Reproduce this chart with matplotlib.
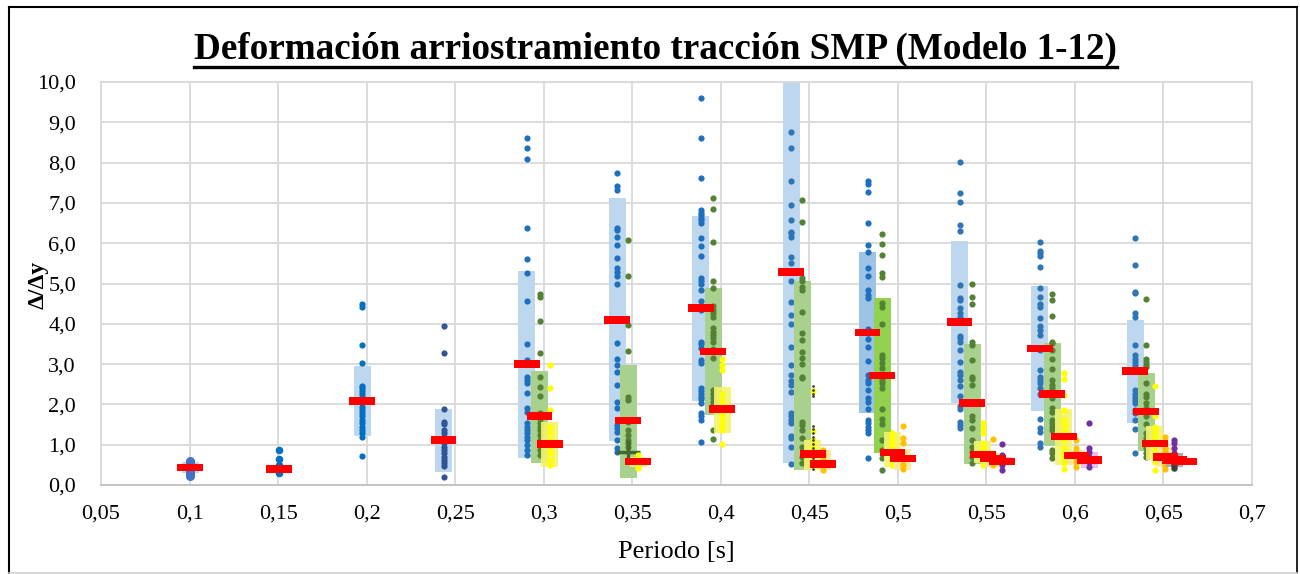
import numpy as np
import matplotlib
matplotlib.use("Agg")
import matplotlib.pyplot as plt
from matplotlib.lines import Line2D

# ---------------- data ----------------
x_ticks = [0.05, 0.1, 0.15, 0.2, 0.25, 0.3, 0.35, 0.4, 0.45, 0.5, 0.55, 0.6, 0.65, 0.7]
x_tick_labels = ["0,05", "0,1", "0,15", "0,2", "0,25", "0,3", "0,35", "0,4", "0,45", "0,5", "0,55", "0,6", "0,65", "0,7"]
y_ticks = [0, 1, 2, 3, 4, 5, 6, 7, 8, 9, 10]
y_tick_labels = ["0,0", "1,0", "2,0", "3,0", "4,0", "5,0", "6,0", "7,0", "8,0", "9,0", "10,0"]

# Blue series (periods 0.1 ... 0.65)
blue_x = [0.1003, 0.1506, 0.1975, 0.2435, 0.2904, 0.3415, 0.3888, 0.4397, 0.4829, 0.5349, 0.5801, 0.6340]
blue_points = [
    [0.60, 0.57, 0.54, 0.51, 0.48, 0.45, 0.42, 0.39, 0.36, 0.33, 0.30, 0.27, 0.24, 0.22],
    [0.87, 0.64, 0.50, 0.43, 0.38, 0.34, 0.30],
    [4.49, 4.42, 3.48, 3.02, 2.46, 2.40, 2.34, 2.27, 2.19, 2.11, 2.03, 1.94, 1.86, 1.78, 1.70,
     1.61, 1.53, 1.45, 1.36, 1.28, 1.20, 0.73],
    [3.95, 3.28, 1.88, 1.57, 1.51, 1.36, 1.30, 1.20, 1.12, 1.03, 0.95, 0.87, 0.79, 0.70, 0.62,
     0.54, 0.47, 0.21],
    [8.62, 8.35, 8.09, 6.37, 5.61, 5.27, 4.57, 3.50, 3.10, 2.69, 2.61, 2.52, 2.29, 1.90, 1.82,
     1.53, 1.45, 1.36, 1.28, 1.20, 1.12, 0.99, 0.87, 0.74],
    [7.73, 7.42, 7.32, 6.37, 6.33, 6.16, 5.96, 5.64, 5.38, 5.29, 5.19, 4.98, 3.52, 3.13, 2.98,
     2.80, 2.47, 2.07, 1.90, 1.49, 1.41, 1.32, 1.12, 0.91, 0.83],
    [9.61, 8.61, 7.63, 6.82, 6.76, 6.70, 6.63, 6.58, 6.51, 6.12, 5.93, 5.68, 5.13, 5.07, 5.00,
     4.84, 4.57, 4.34, 3.56, 3.49, 3.39, 3.10, 3.02, 2.40, 2.33, 2.27, 2.19, 2.13, 2.04, 1.78,
     1.71, 1.61, 1.06],
    [8.77, 8.37, 7.55, 6.96, 6.58, 6.29, 6.25, 6.16, 5.65, 5.52, 5.07, 4.55, 4.22, 3.99, 3.43,
     2.98, 2.73, 2.59, 2.48, 2.30, 1.78, 1.70, 1.61, 1.53, 1.22, 1.16, 0.95, 0.52],
    [7.55, 7.47, 7.26, 6.50, 5.96, 5.79, 5.38, 5.19, 4.84, 4.72, 4.63, 3.86, 3.76, 3.62, 3.43,
     3.08, 2.73, 2.61, 2.52, 2.36, 2.15, 2.07, 1.88, 1.61, 1.53, 1.45, 1.36, 1.28, 0.66],
    [8.02, 7.24, 7.03, 6.44, 6.31, 4.96, 4.65, 4.59, 4.38, 4.26, 4.18, 3.70, 3.64, 3.56, 3.35,
     3.04, 2.81, 2.73, 2.61, 2.46, 2.21, 1.96, 1.88, 1.57, 1.49, 1.41],
    [6.02, 5.81, 5.75, 5.69, 5.40, 4.88, 4.67, 4.48, 4.42, 4.14, 3.95, 3.85, 3.72, 3.35, 2.85,
     2.69, 2.61, 2.52, 2.40, 2.27, 1.65, 1.41, 1.32, 1.03, 0.95],
    [6.12, 5.47, 4.80, 4.77, 4.26, 4.18, 3.47, 3.23, 3.12, 3.06, 2.98, 2.36, 2.27, 2.19, 2.11,
     2.03, 1.86, 1.78, 1.61, 1.38, 0.79],
]
blue_lo = [0.30, 0.30, 1.22, 0.33, 0.66, 1.08, 2.09, 0.55, 1.78, 2.03, 1.84, 1.55]
blue_hi = [0.58, 0.50, 2.95, 1.88, 5.31, 7.12, 6.67, 9.97, 5.77, 6.05, 4.94, 4.09]
blue_mean = [0.43, 0.39, 2.08, 1.12, 3.00, 4.10, 4.39, 5.28, 3.78, 4.04, 3.39, 2.83]
blue_dot_colors = ["#4472c4", "#0070c0", "#0070c0", "#2f5597", "#1f6fbf", "#1f6fbf",
                   "#1f6fbf", "#2e75b6", "#1f6fbf", "#2e75b6", "#2e75b6", "#2e75b6"]
blue_dot_sizes = [42, 30, 20, 20, 20, 20, 20, 20, 20, 20, 20, 20]
blue_bar_colors = ["#bdd7ee"] * 8 + ["#9dc3e6"] + ["#bdd7ee"] * 3

# Green series (periods 0.3 ... 0.65)
green_x = [0.2977, 0.3477, 0.3958, 0.4459, 0.4911, 0.5419, 0.5871, 0.6402]
green_points = [
    [4.73, 4.66, 4.08, 3.27, 2.69, 2.44, 2.21, 1.78, 1.65, 1.53, 1.45, 1.36, 1.24, 1.12, 0.99, 0.87, 0.74],
    [6.08, 5.19, 3.97, 3.33, 2.18, 2.11, 1.57, 1.36, 1.24, 1.12, 1.03, 0.95],
    [7.12, 6.84, 6.04, 5.07, 4.90, 4.43, 4.34, 4.26, 4.18, 3.89, 3.80, 3.72, 3.64, 3.56, 3.37,
     3.14, 2.36, 2.27, 2.15, 2.07, 1.99, 1.36, 1.14],
    [7.06, 6.53, 5.13, 5.05, 4.92, 4.84, 4.30, 3.76, 3.60, 3.31, 3.14, 3.00, 2.69, 2.65, 1.57,
     1.49, 1.36, 1.16, 0.95, 0.70, 0.54],
    [6.23, 5.97, 5.71, 5.25, 5.17, 4.51, 4.42, 3.99, 3.23, 3.14, 3.02, 2.90, 2.69, 2.61, 2.52,
     2.40, 1.88, 1.63, 1.51, 1.12, 0.87, 0.66, 0.37],
    [4.98, 4.67, 4.48, 3.56, 3.47, 3.09, 2.69, 2.62, 2.48, 1.71, 1.61, 1.41, 1.12, 0.95, 0.83, 0.70, 0.54],
    [4.73, 4.59, 4.20, 3.56, 3.52, 3.35, 3.13, 2.87, 2.61, 2.48, 2.40, 2.27, 2.15, 1.90, 1.82,
     1.61, 1.53, 1.45, 1.36, 0.87, 0.79, 0.66],
    [4.61, 3.47, 3.12, 3.06, 2.98, 2.94, 2.52, 2.27, 2.19, 2.03, 1.90, 1.70, 1.51, 1.28, 1.16,
     1.03, 0.91, 0.79, 0.70],
]
green_lo = [0.55, 0.18, 1.74, 0.36, 0.80, 0.52, 0.97, 0.85]
green_hi = [2.83, 2.98, 4.88, 5.06, 4.64, 3.50, 3.52, 2.77]
green_mean = [1.71, 1.60, 3.31, np.nan, 2.72, 2.03, 2.26, 1.82]
green_bar_colors = ["#a9d18e"] * 4 + ["#92d050"] + ["#a9d18e"] * 3
green_cross_x = [0.3477]
green_cross_y = [0.83]

# Yellow series
yellow_x = [0.3034, 0.3534, 0.4007, 0.4519, 0.4969, 0.5479, 0.5937, 0.6452]
yellow_points = [
    [2.99, 2.40, 1.86, 1.45, 1.28, 1.12, 0.95, 0.79, 0.62, 0.50],
    [0.74, 0.62, 0.50, 0.41],
    [3.12, 2.98, 2.85, 2.27, 2.11, 1.99, 1.86, 1.74, 1.61, 1.49, 1.36, 1.01],
    [2.33, 1.34, 1.12, 0.95, 0.79, 0.62],
    [1.28, 1.16, 1.03, 0.91, 0.79, 0.62, 0.50],
    [1.53, 1.41, 1.28, 1.03, 0.91, 0.79, 0.62, 0.50],
    [2.77, 2.62, 2.23, 1.86, 1.61, 1.49, 1.36, 1.12, 0.91, 0.79, 0.66, 0.54, 0.39],
    [2.46, 1.70, 1.45, 1.32, 1.20, 1.08, 0.95, 0.83, 0.70, 0.58, 0.36],
]
yellow_lo = [0.44, 0.45, 1.30, 0.37, 0.45, 0.54, 0.50, 0.62]
yellow_hi = [1.57, 0.70, 2.44, 1.12, 1.32, 1.08, 1.89, 1.46]
yellow_mean = [1.02, 0.58, 1.88, 0.77, 0.81, 0.76, 1.20, 1.03]

# Orange series
orange_x = [0.4577, 0.5029, 0.5539, 0.6008, 0.6511]
orange_points = [
    [0.87, 0.74, 0.62, 0.50, 0.37],
    [1.46, 1.16, 1.03, 0.62, 0.50, 0.39],
    [1.13, 0.72, 0.62, 0.50],
    [1.12, 0.91, 0.83, 0.70, 0.58, 0.45],
    [1.20, 1.03, 0.91, 0.83, 0.70, 0.58, 0.50, 0.39],
]
orange_lo = [0.37, 0.37, 0.45, 0.50, 0.45]
orange_hi = [0.87, 0.89, 0.80, 0.87, 0.95]
orange_mean = [0.52, 0.66, 0.66, 0.73, 0.70]

# Purple series
purple_x = [0.5590, 0.6082, 0.6562]
purple_points = [
    [1.01, 0.74, 0.62, 0.50, 0.37],
    [1.53, 0.91, 0.83, 0.70, 0.58, 0.45],
    [1.12, 1.03, 0.91, 0.79],
]
purple_lo = [0.50, 0.41, 0.55]
purple_hi = [0.70, 0.83, 0.79]
purple_mean = [0.58, 0.62, 0.62]

# Dark grey series
black_x = [0.4519, 0.6562]
black_points = [
    [2.45, 2.36, 2.27, 2.20, 1.47, 1.38, 1.29, 1.20, 1.11, 1.02, 0.93, 0.84, 0.75, 0.66, 0.57, 0.48, 0.39],
    [0.70, 0.58, 0.50, 0.41],
]
black_dot_sizes = [4, 22]
black_lo = [np.nan, 0.45]
black_hi = [np.nan, 0.79]
black_mean_x = [0.6619]
black_mean = [0.58]

# ---------------- styling ----------------
SERIF = ["Liberation Serif", "DejaVu Serif"]
plt.rcParams["font.family"] = SERIF

fig = plt.figure(figsize=(13.0, 5.74), dpi=100)
ax = fig.add_axes([101 / 1300, 1 - 485 / 574, (1252 - 101) / 1300, (485 - 82) / 574])

BAR_W = 0.0096
MEAN_W = 0.0145
MEAN_H = 0.19
DOT_S = 20
GRID = "#d9d9d9"


def draw_series(xs, pts, lo, hi, bar_colors, dot_colors, alpha=1.0, dot_sizes=None, z=2):
    for i, x in enumerate(xs):
        if not np.isnan(lo[i]):
            ax.bar(x, hi[i] - lo[i], bottom=lo[i], width=BAR_W, color=bar_colors[i],
                   alpha=alpha, zorder=z, linewidth=0)
        s = DOT_S if dot_sizes is None else dot_sizes[i]
        ax.scatter([x] * len(pts[i]), pts[i], s=s, color=dot_colors[i], zorder=z + 0.5,
                   linewidths=0)


def draw_means(xs, means):
    xs = np.asarray(xs, float)
    m = np.asarray(means, float)
    ok = ~np.isnan(m)
    ax.bar(xs[ok], MEAN_H, bottom=m[ok] - MEAN_H / 2, width=MEAN_W, color="#ff0000",
           zorder=10, linewidth=0)


draw_series(blue_x, blue_points, blue_lo, blue_hi, blue_bar_colors, blue_dot_colors,
            dot_sizes=blue_dot_sizes, z=2)
draw_series(green_x, green_points, green_lo, green_hi, green_bar_colors,
            ["#548235"] * len(green_x), z=3)
ax.plot(green_cross_x, green_cross_y, marker="+", ms=17, mew=2.5, color="#43682b",
        linestyle="none", zorder=4)
draw_series(yellow_x, yellow_points, yellow_lo, yellow_hi, ["#f3f36a"] * len(yellow_x),
            ["#ffff00"] * len(yellow_x), alpha=0.9, z=4)
draw_series(orange_x, orange_points, orange_lo, orange_hi, ["#ffe699"] * len(orange_x),
            ["#ffc000"] * len(orange_x), alpha=0.9, z=5)
draw_series(purple_x, purple_points, purple_lo, purple_hi, ["#f0b3ee"] * len(purple_x),
            ["#7030a0"] * len(purple_x), alpha=0.9, z=6)
draw_series(black_x, black_points, black_lo, black_hi, ["#a6a6a6"] * len(black_x),
            ["#404040"] * len(black_x), alpha=0.9, dot_sizes=black_dot_sizes, z=7)

draw_means(blue_x, blue_mean)
draw_means(green_x, green_mean)
draw_means(yellow_x, yellow_mean)
draw_means(orange_x, orange_mean)
draw_means(purple_x, purple_mean)
draw_means(black_mean_x, black_mean)

ax.set_xlim(0.05, 0.7)
ax.set_ylim(0, 10)
ax.set_xticks(x_ticks)
ax.set_xticklabels(x_tick_labels)
ax.set_yticks(y_ticks)
ax.set_yticklabels(y_tick_labels)
ax.tick_params(axis="both", length=0, labelsize=16, colors="#000000")
ax.tick_params(axis="x", pad=14)
ax.tick_params(axis="y", pad=18)
ax.grid(True, color=GRID, linewidth=1.3, zorder=0)
ax.set_axisbelow(True)
for side, sp in ax.spines.items():
    sp.set_color(GRID)
    sp.set_linewidth(1.3)
ax.spines["bottom"].set_color("#bfbfbf")

ax.set_xlabel("Periodo [s]", fontsize=19, labelpad=13)
fig.text(0.029, 0.503, "Δ/Δy", rotation=90, fontsize=17, fontweight="bold",
         ha="center", va="center")

title = fig.text(0.504, 0.914, "Deformación arriostramiento tracción SMP (Modelo 1-12)",
                 fontsize=26.7, fontweight="bold", ha="center", va="center")
fig.canvas.draw()
bb = title.get_window_extent(renderer=fig.canvas.get_renderer())
uy = (574 - 67) / 574
fig.add_artist(Line2D([bb.x0 / 1300, bb.x1 / 1300], [uy, uy], color="black", lw=2.4,
                      transform=fig.transFigure))

# outer border
fig.add_artist(Line2D([9 / 1300, 9 / 1300], [1 - 573 / 574, 1 - 7 / 574], color="black", lw=1.5,
                      transform=fig.transFigure))
fig.add_artist(Line2D([9 / 1300, 1297 / 1300], [1 - 7 / 574, 1 - 7 / 574], color="black", lw=1.5,
                      transform=fig.transFigure))
fig.add_artist(Line2D([1297 / 1300, 1297 / 1300], [1 - 573 / 574, 1 - 7 / 574], color="black", lw=1.2,
                      transform=fig.transFigure))
fig.add_artist(Line2D([9 / 1300, 1297 / 1300], [1 - 573 / 574, 1 - 573 / 574], color="#d0d0d0", lw=1.2,
                      transform=fig.transFigure))

fig.savefig("out.png", dpi=100)
